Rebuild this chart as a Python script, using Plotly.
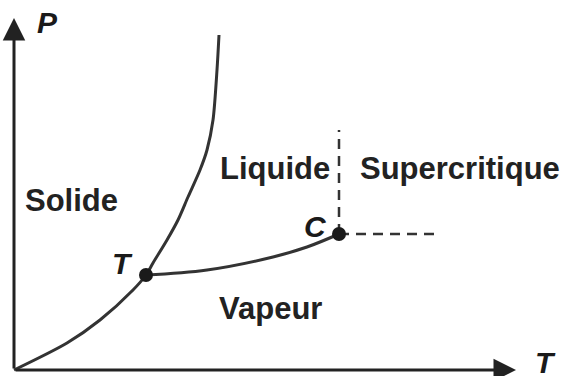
import plotly.graph_objects as go

# Schematic phase diagram (temperature T, pressure P in arbitrary units)
fusion_T = [0, 53, 86, 119, 132, 139, 153, 164, 174, 186, 193, 199, 203, 205]
fusion_P = [0, 27, 50, 80, 95, 107, 130, 150, 173, 200, 220, 250, 300, 335]

vap_T = [132, 193, 259, 293, 325]
vap_P = [95, 100, 113, 123, 136]

triple = (132, 95)
critical = (325, 136)
crit_v_top = 240
crit_h_end = 426

regions = ["Solide", "Liquide", "Supercritique", "Vapeur"]
region_T = [57, 261, 446, 256]
region_P = [170, 202, 202, 62]

line_col = "#333333"
fnt = "Liberation Sans, Arial, sans-serif"

fig = go.Figure()
fig.add_trace(go.Scatter(x=fusion_T, y=fusion_P, mode="lines",
                         line=dict(color=line_col, width=3, shape="spline", smoothing=0.8),
                         hoverinfo="skip"))
fig.add_trace(go.Scatter(x=vap_T, y=vap_P, mode="lines",
                         line=dict(color=line_col, width=3, shape="spline", smoothing=1.0),
                         hoverinfo="skip"))
fig.add_trace(go.Scatter(x=[critical[0], critical[0]], y=[critical[1], crit_v_top], mode="lines",
                         line=dict(color=line_col, width=2.5, dash="10px,7px"), hoverinfo="skip"))
fig.add_trace(go.Scatter(x=[critical[0], crit_h_end], y=[critical[1], critical[1]], mode="lines",
                         line=dict(color=line_col, width=2.5, dash="10px,7px"), hoverinfo="skip"))
fig.add_trace(go.Scatter(x=[triple[0], critical[0]], y=[triple[1], critical[1]], mode="markers",
                         marker=dict(color="#1a1a1a", size=14), hoverinfo="skip"))

# axes arrows
fig.add_annotation(x=502, y=0, ax=0, ay=0, xref="x", yref="y", axref="x", ayref="y",
                   showarrow=True, arrowhead=2, arrowsize=1.5, arrowwidth=3, arrowcolor="#222222", text="")
fig.add_annotation(x=0, y=352, ax=0, ay=0, xref="x", yref="y", axref="x", ayref="y",
                   showarrow=True, arrowhead=2, arrowsize=1.5, arrowwidth=3, arrowcolor="#222222", text="")

for name, tx, py in zip(regions, region_T, region_P):
    fig.add_annotation(x=tx, y=py, text="<b>" + name + "</b>", showarrow=False,
                       font=dict(family=fnt, size=31, color="#222222"))

labels = [("P", 33, 348), ("T", 531, 8), ("T", 108, 107), ("C", 301, 144)]
for t, x, y in labels:
    fig.add_annotation(x=x, y=y, text="<b><i>" + t + "</i></b>", showarrow=False,
                       font=dict(family=fnt, size=30, color="#1a1a1a"))

fig.update_layout(width=563, height=376, margin=dict(l=0, r=0, t=0, b=0),
                  paper_bgcolor="white", plot_bgcolor="white", showlegend=False,
                  xaxis=dict(range=[-14, 549], visible=False),
                  yaxis=dict(range=[-6, 370], visible=False))
fig.write_html("out.html", config={"displayModeBar": False},
               post_script="document.body.style.margin='0';document.body.style.overflow='hidden';")
